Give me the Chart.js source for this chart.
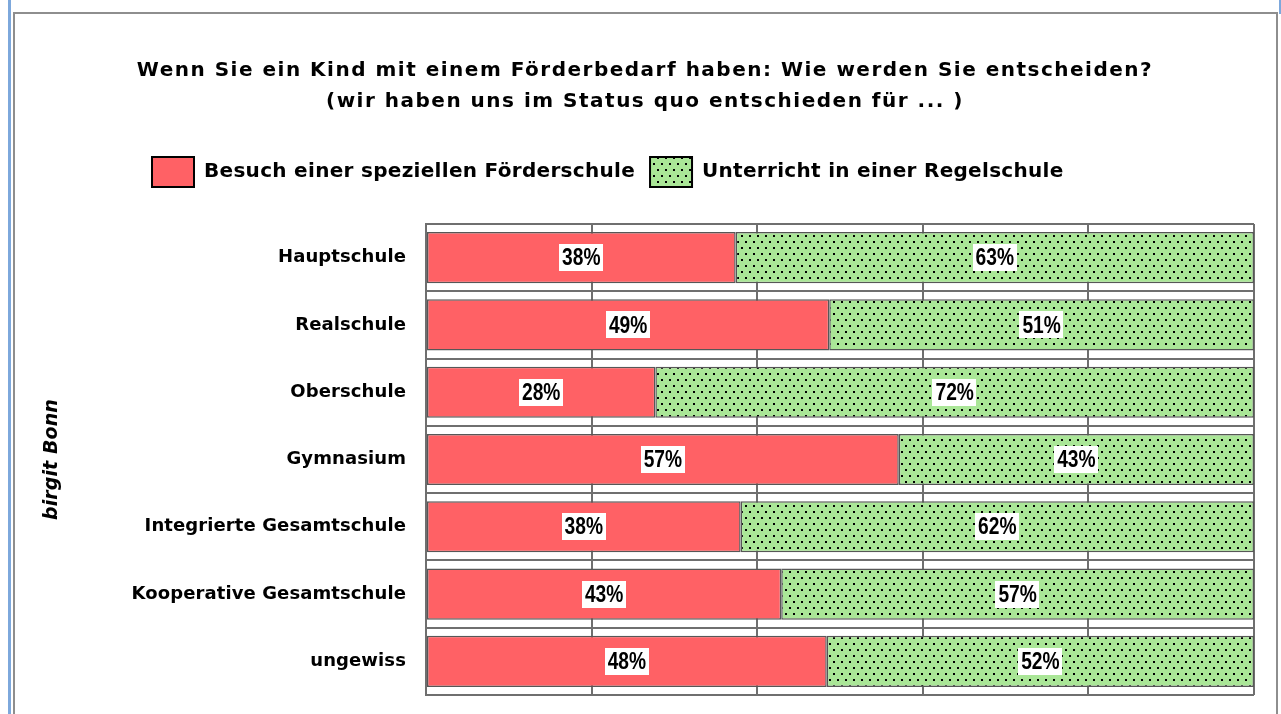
<!DOCTYPE html>
<html><head><meta charset="utf-8">
<script src="https://cdn.jsdelivr.net/npm/chart.js@4.4.1/dist/chart.umd.min.js"></script>
<style>
html,body{margin:0;padding:0;background:#fff;}
body{width:1281px;height:714px;position:relative;overflow:hidden;}
#blueL{position:absolute;left:8px;top:0;width:3px;height:714px;background:#7da8dc;}
#frame{position:absolute;left:13px;top:12px;width:1261px;height:740px;border:2px solid #8e8e8e;}
#blueR{position:absolute;left:1279px;top:0;width:2px;height:14px;background:#7da8dc;}
canvas{position:absolute;left:0;top:0;}
</style></head><body>
<div id="blueL"></div><div id="frame"></div><div id="blueR"></div>
<canvas id="c" width="1281" height="714"></canvas>
<script>
// ---- data ----
const categories = ['Hauptschule','Realschule','Oberschule','Gymnasium','Integrierte Gesamtschule','Kooperative Gesamtschule','ungewiss'];
const foerderValues = [37.4, 48.7, 27.7, 57.1, 38.0, 42.9, 48.4];
const regelValues   = [62.6, 51.3, 72.3, 42.9, 62.0, 57.1, 51.6];
const foerderLabels = ['38%','49%','28%','57%','38%','43%','48%'];
const regelLabels   = ['63%','51%','72%','43%','62%','57%','52%'];
const seriesNames = ['Besuch einer speziellen Förderschule','Unterricht in einer Regelschule'];
const titleLines = ['Wenn Sie ein Kind mit einem Förderbedarf haben: Wie werden Sie entscheiden?','(wir haben uns im Status quo entschieden für ... )'];
const axisTitle = 'birgit Bonn';
const xTicks = [0,20,40,60,80,100];

// ---- styles ----
const FONT = '"DejaVu Sans", "Liberation Sans", sans-serif';
const RED = '#ff6165';
const GREEN = '#aae697';
const GRID = '#6f6f6f';
const SP_TITLE = '1.5px', SP_LEGEND = '0.3px', SP_AXIS = '0.1px';

const canvas = document.getElementById('c');
const ctx = canvas.getContext('2d');

function makeDots(){
  const t = document.createElement('canvas'); t.width = 8; t.height = 12;
  const g = t.getContext('2d');
  g.fillStyle = GREEN; g.fillRect(0,0,8,12);
  g.fillStyle = '#000'; g.fillRect(1,1,2,2); g.fillRect(5,7,2,2);
  return ctx.createPattern(t,'repeat');
}
const dots = makeDots();

function wrapSpacing(obj, fnName, sp){
  if (!obj || obj['_sp_'+fnName]) return;
  const orig = obj[fnName];
  obj[fnName] = function(){
    const c = this.ctx; const prev = c.letterSpacing;
    c.letterSpacing = sp;
    const r = orig.apply(this, arguments);
    c.letterSpacing = prev;
    return r;
  };
  obj['_sp_'+fnName] = true;
}

const spacingPlugin = {
  id: 'spacing',
  beforeUpdate(chart){ chart.ctx.letterSpacing = SP_LEGEND; },
  beforeDraw(chart){ chart.ctx.letterSpacing = SP_LEGEND; },
  afterLayout(chart){
    wrapSpacing(chart.titleBlock, 'draw', SP_TITLE);
    wrapSpacing(chart.scales.y, 'drawLabels', SP_AXIS);
    wrapSpacing(chart.scales.y, 'drawTitle', SP_AXIS);
    if (chart.legend) chart.legend.left = 137;
  }
};

const segLabels = {
  id: 'segLabels',
  afterDatasetsDraw(chart){
    const c = chart.ctx;
    c.save();
    c.letterSpacing = '0px';
    c.font = 'bold 24px "Liberation Sans", Arial, sans-serif';
    c.textAlign = 'center'; c.textBaseline = 'middle';
    const sx = 0.8;
    chart.data.datasets.forEach((ds, di) => {
      const meta = chart.getDatasetMeta(di);
      meta.data.forEach((bar, i) => {
        const t = ds.pctLabels[i];
        const cx = (bar.x + bar.base) / 2, cy = bar.y;
        const w = c.measureText(t).width * sx + 6, h = 27;
        c.fillStyle = '#fff';
        c.fillRect(Math.round(cx - w/2), Math.round(cy - h/2), Math.round(w), h);
        c.fillStyle = '#000';
        c.save();
        c.translate(cx, cy + 1);
        c.scale(sx, 1);
        c.fillText(t, 0, 0);
        c.restore();
      });
    });
    c.restore();
  }
};

new Chart(ctx, {
  type: 'bar',
  data: {
    labels: categories,
    datasets: [
      { label: seriesNames[0], data: foerderValues, pctLabels: foerderLabels,
        backgroundColor: RED, borderColor: '#575757', borderWidth: 1.5, borderSkipped: false },
      { label: seriesNames[1], data: regelValues, pctLabels: regelLabels,
        backgroundColor: dots, borderColor: '#575757', borderWidth: 1.5, borderSkipped: false }
    ]
  },
  options: {
    indexAxis: 'y',
    responsive: false,
    animation: false,
    devicePixelRatio: 1,
    layout: { padding: { left: 36, right: 27, top: 0, bottom: 19 } },
    datasets: { bar: { barPercentage: 0.76, categoryPercentage: 1 } },
    scales: {
      x: {
        position: 'top', stacked: true,
        min: xTicks[0], max: xTicks[xTicks.length - 1],
        ticks: { display: false, stepSize: xTicks[1] - xTicks[0] },
        grid: { color: GRID, lineWidth: 2, drawTicks: false },
        border: { display: false },
        afterFit(s){ s.height = 27; }
      },
      y: {
        stacked: true,
        grid: { color: GRID, lineWidth: 2, drawTicks: false, offset: true },
        border: { color: GRID, width: 2 },
        ticks: { color: '#000', padding: 20, font: { family: FONT, size: 18, weight: 'bold' } },
        title: { display: true, text: axisTitle, color: '#000',
                 font: { family: FONT, size: 19, style: 'italic', weight: 'bold' },
                 padding: { top: 5, bottom: 0 } },
        afterFit(s){ s.width = 390; s.paddingTop = 0; s.paddingBottom = 0; }
      }
    },
    plugins: {
      title: {
        display: true, text: titleLines, color: '#000',
        font: { family: FONT, size: 20, weight: 'bold', lineHeight: '31px' },
        padding: { top: 55, bottom: 25 }
      },
      legend: {
        align: 'start',
        labels: {
          boxWidth: 42, boxHeight: 30, padding: 15, color: '#000',
          font: { family: FONT, size: 20, weight: 'bold' },
          generateLabels(chart){
            const items = Chart.defaults.plugins.legend.labels.generateLabels(chart);
            items.forEach(it => { it.strokeStyle = '#000'; it.lineWidth = 2; });
            return items;
          }
        }
      },
      tooltip: { enabled: false }
    }
  },
  plugins: [spacingPlugin, segLabels]
});
</script>
</body></html>
